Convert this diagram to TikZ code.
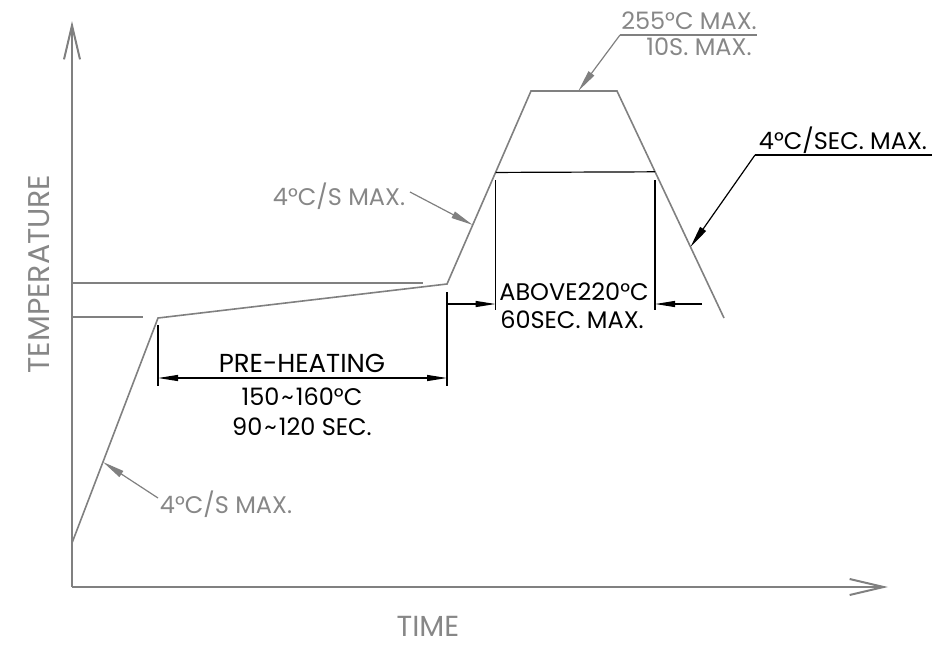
\documentclass[tikz,border=0pt]{standalone}
\usepackage{fontspec}
\setmainfont{Poppins}
\usetikzlibrary{arrows.meta,calc}
\definecolor{linegray}{RGB}{128,128,128}
\definecolor{txtgray}{RGB}{135,135,135}
\newcommand{\tld}{\kern2pt\textasciitilde\kern2pt}

\begin{document}
\begin{tikzpicture}[x=1pt,y=-1pt,
    axis/.style={draw=linegray,line width=2pt,-{Straight Barb[length=34pt,width=16pt]}},
    profile/.style={draw=linegray,line width=1.6pt,line join=miter},
    refline/.style={draw=linegray,line width=1.6pt},
    dimline/.style={draw=black,line width=1.2pt},
    dimarrow/.style={draw=black,line width=1.2pt,-{Triangle[length=20pt,width=6pt]}},
    gleader/.style={draw=linegray,line width=1.2pt,-{Triangle[length=22pt,width=7pt]}},
    bleader/.style={draw=black,line width=1.2pt,-{Triangle[length=22pt,width=7pt]}}]
    \useasboundingbox (0,0) rectangle (932,646);
    % axes
    \coordinate (o) at (72,587);
    \coordinate (ytop) at (72,21);
    \coordinate (xend) at (888,587);
    \path[axis] (o) -- (ytop);
    \path[axis] (o) -- (xend);
    % profile
    \coordinate (p0) at (72,543);
    \coordinate (p1) at (158,318);
    \coordinate (p2) at (447,284);
    \coordinate (p3) at (531,91);
    \coordinate (p4) at (617,91);
    \coordinate (p5) at (724,318);
    \path[profile] (p0) -- (p1) -- (p2) -- (p3) -- (p4) -- (p5);
    \coordinate (r1) at (143,317);
    \coordinate (r2) at (423,283);
    \path[refline] (p0 |- r1) -- (r1);
    \path[refline] (p0 |- r2) -- (r2);
    % 220 line and dimensions
    \coordinate (a1) at ($(p2)!0.578!(p3)$);
    \coordinate (a2) at ($(p4)!0.356!(p5)$);
    \path[dimline] (a1) -- (a2);
    \path[dimline] (a1 |- 0,180) -- (a1 |- 0,310);
    \path[dimline] (a2 |- 0,180) -- (a2 |- 0,310);
    \path[dimline] (p2 |- 0,292) -- (p2 |- 0,386);
    \path[dimline] (p1 |- 0,325) -- (p1 |- 0,386);
    \path[dimarrow] (p2 |- 0,304) -- (a1 |- 0,304);
    \path[dimarrow] (702,304) -- (a2 |- 0,304);
    \path[dimline,{Triangle[length=20pt,width=6pt]}-{Triangle[length=20pt,width=6pt]}] (p1 |- 0,378) -- (p2 |- 0,378);
    \begin{scope}[every node/.style={black,anchor=base,inner sep=0pt,font=\fontsize{24}{26}\selectfont}]
        \node[font=\fontsize{26}{28}\selectfont] (nPre) at (302,372) {PRE-HEATING};
        \node (nTmp) at (302,405) {150\tld160\textdegree C};
        \node (nSec) at (302,435) {90\tld120 SEC.};
        \node (nAbv) at (574,300) {ABOVE220\textdegree C};
        \node (nSixty) at (572,328) {60SEC. MAX.};
        \node (nCool) at (843,149) {4\textdegree C/SEC. MAX.};
    \end{scope}
    \begin{scope}[every node/.style={txtgray,anchor=base,inner sep=0pt,font=\fontsize{24}{26}\selectfont}]
        \node (nRamp) at (339,205) {4\textdegree C/S MAX.};
        \node (nRise) at (226,513) {4\textdegree C/S MAX.};
        \node (nPeak) at (689,29) {255\textdegree C MAX.};
        \node (nTen) at (699,55) {10S. MAX.};
        \node[font=\fontsize{30}{32}\selectfont,rotate=90,anchor=center] (nTemp) at (39,274) {TEMPERATURE};
        \node[font=\fontsize{29}{30}\selectfont] (nTime) at (428,636) {TIME};
    \end{scope}
    % leaders
    \coordinate (u1) at (620,35);
    \coordinate (u2) at (757,35);
    \coordinate (u3) at (755,155);
    \coordinate (u4) at (932,155);
    \path[refline,line width=1.2pt] (u1) -- (u2);
    \path[dimline] (u3) -- (u4);
    \path[gleader] (u1) -- ($(p3)!0.55!(p4)$);
    \path[bleader] (u3) -- ($(p4)!0.687!(p5)$);
    \path[gleader] (410,192) -- ($(p2)!0.306!(p3)$);
    \path[gleader] (158,498) -- ($(p0)!0.36!(p1)$);
\end{tikzpicture}
\end{document}
